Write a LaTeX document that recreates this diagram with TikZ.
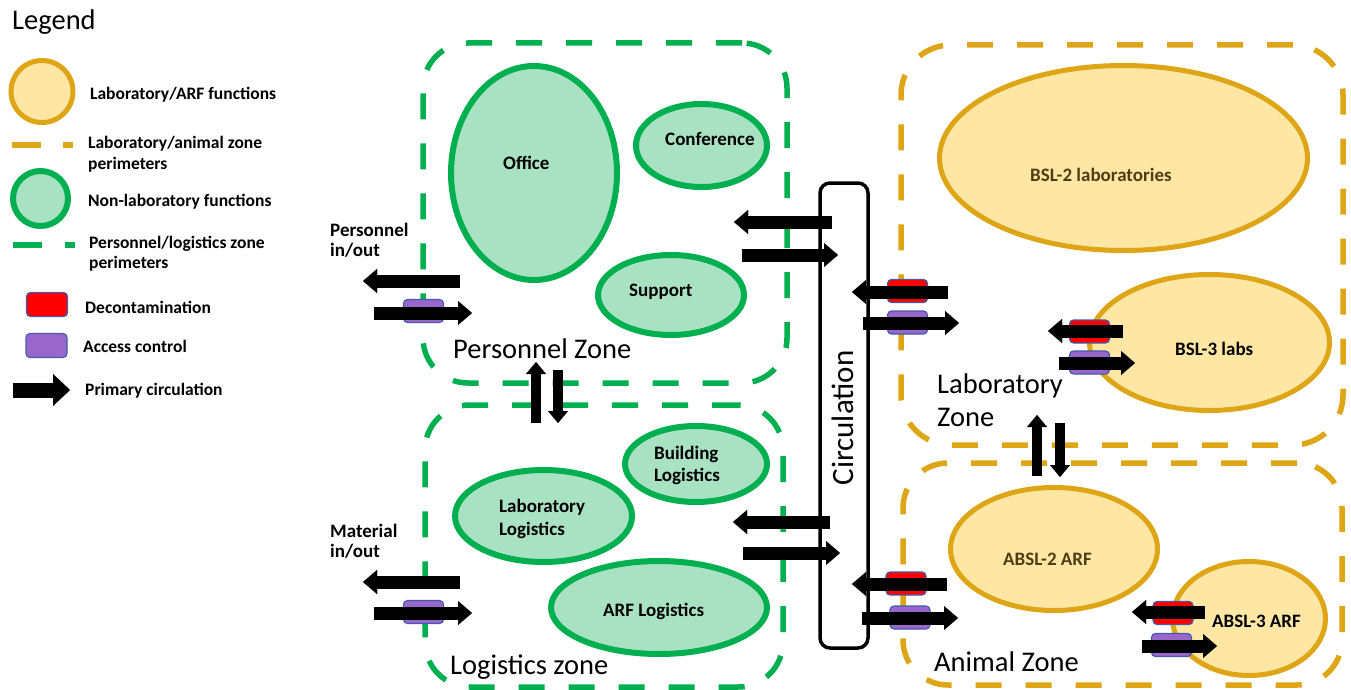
\documentclass[tikz,border=0pt]{standalone}
\usepackage{fontspec}
\setmainfont{Carlito}
\usetikzlibrary{shapes.geometric,arrows.meta}
\definecolor{zgreen}{RGB}{0,176,80}
\definecolor{lgreen}{RGB}{168,226,195}
\definecolor{zgold}{RGB}{222,166,22}
\definecolor{lgold}{RGB}{254,231,165}
\definecolor{dred}{RGB}{255,0,0}
\definecolor{purp}{RGB}{153,102,204}
\definecolor{bblue}{RGB}{70,90,170}
\definecolor{brownt}{RGB}{80,60,20}
\begin{document}
\begin{tikzpicture}[x=1pt,y=-1pt,
  zoneG/.style={draw=zgreen, line width=5.5pt, dash pattern=on 26pt off 24pt, rounded corners=45pt, rectangle, inner sep=0pt},
  zoneY/.style={draw=zgold, line width=5.5pt, dash pattern=on 26pt off 24pt, rounded corners=45pt, rectangle, inner sep=0pt},
  funcG/.style={ellipse, draw=zgreen, fill=lgreen, line width=6pt, inner sep=0pt},
  funcY/.style={ellipse, draw=zgold, fill=lgold, line width=5pt, inner sep=0pt},
  decon/.style={rectangle, rounded corners=4pt, fill=dred, draw=bblue, line width=1.2pt, minimum width=40pt, minimum height=23pt, inner sep=0pt},
  access/.style={decon, fill=purp},
  circbox/.style={rectangle, draw=black, line width=3.5pt, rounded corners=10pt, inner sep=0pt},
  bigarrow/.style={line width=13pt, -{Triangle[length=14pt,width=24pt,line width=0.01pt]}},
  vertarrow/.style={line width=10pt, -{Triangle[length=12pt,width=20pt,line width=0.01pt]}},
  legarrow/.style={line width=15pt, -{Triangle[length=17pt,width=32pt,line width=0.01pt]}},
  lbl/.style={font=\fontsize{19}{22}\selectfont\bfseries, inner sep=0pt, anchor=base west},
  leg/.style={font=\fontsize{17.5}{21}\selectfont\bfseries, inner sep=0pt, anchor=base west},
  big/.style={font=\fontsize{28.5}{33}\selectfont, inner sep=0pt, anchor=base west},
]
\useasboundingbox (0,0) rectangle (1351,690);

% ---------------- Legend ----------------
\node[big] (legT) at (12,29.5) {Legend};
\node[funcY, minimum width=62pt, minimum height=62pt] (legY) at (42,91.5) {};
\node[leg] (legYt) at (90,100) {Laboratory/ARF functions};
\coordinate (ldy1) at (12,145); \coordinate (ldy2) at (73,145);
\draw[draw=zgold, line width=6pt, dash pattern=on 29pt off 22pt] (ldy1) -- (ldy2);
\node[leg] (legYd1) at (88,148.5) {Laboratory/animal zone};
\node[leg] (legYd2) at (88,169) {perimeters};
\node[funcG, minimum width=55pt, minimum height=55pt] (legG) at (40.5,198.5) {};
\node[leg] (legGt) at (88,206.5) {Non-laboratory functions};
\coordinate (ldg1) at (13,245); \coordinate (ldg2) at (75,245);
\draw[draw=zgreen, line width=6pt, dash pattern=on 29pt off 23pt] (ldg1) -- (ldg2);
\node[leg] (legGd1) at (89,248) {Personnel/logistics zone};
\node[leg] (legGd2) at (89,268) {perimeters};
\node[decon, minimum width=41pt, minimum height=24pt] (legR) at (47,304.5) {};
\node[leg] (legRt) at (85,313) {Decontamination};
\node[access, minimum width=41pt, minimum height=24pt] (legP) at (46.5,345.5) {};
\node[leg] (legPt) at (83,352) {Access control};
\coordinate (lga1) at (13,390); \coordinate (lga2) at (70,390);
\draw[legarrow] (lga1) -- (lga2);
\node[leg] (legAt) at (85,395.5) {Primary circulation};

% ---------------- Zones ----------------
\node[zoneG, minimum width=364pt, minimum height=340pt] (pz) at (605,213) {};
\node[zoneG, minimum width=358pt, minimum height=282pt] (lz) at (604,546) {};
\node[zoneY, minimum width=442pt, minimum height=400pt, rounded corners=50pt] (labz) at (1122,245) {};
\node[zoneY, minimum width=439pt, minimum height=222pt] (az) at (1122.5,574) {};
\node[circbox, minimum width=48pt, minimum height=465pt] (circ) at (844,415.5) {};
\node[font=\fontsize{31}{36}\selectfont, rotate=90, inner sep=0pt] (circt) at (843,418) {Circulation};

% ---------------- Functions ----------------
\node[funcG, minimum width=166pt, minimum height=214pt] (office) at (534,173) {};
\node[funcG, minimum width=131pt, minimum height=83pt] (conf) at (701.5,145.5) {};
\node[funcG, minimum width=146pt, minimum height=80pt] (supp) at (671,295) {};
\node[funcG, minimum width=142pt, minimum height=76pt] (bldg) at (696,464) {};
\node[funcG, minimum width=177pt, minimum height=92pt] (lablog) at (543.5,516) {};
\node[funcG, minimum width=216pt, minimum height=93pt] (arflog) at (659,607.5) {};
\node[funcY, minimum width=368pt, minimum height=185pt] (bsl2) at (1123.5,158) {};
\node[funcY, minimum width=240pt, minimum height=136pt] (bsl3) at (1209.5,342.5) {};
\node[funcY, minimum width=207pt, minimum height=123pt] (absl2) at (1054,549) {};
\node[funcY, minimum width=153pt, minimum height=114pt] (absl3) at (1249,618.5) {};

% ---------------- Labels ----------------
\node[lbl] (officet) at (503,169.3) {Office};
\node[lbl] (conft) at (665,146) {Conference};
\node[lbl] (suppt) at (629,296.7) {Support};
\node[lbl] (pio1) at (330,236.7) {Personnel};
\node[lbl] (pio2) at (330,256.7) {in/out};
\node[lbl] (mio1) at (330,537.5) {Material};
\node[lbl] (mio2) at (330,557.5) {in/out};
\node[lbl] (bldgt1) at (654,459) {Building};
\node[lbl] (bldgt2) at (654,481) {Logistics};
\node[lbl] (lablogt1) at (499,512.7) {Laboratory};
\node[lbl] (lablogt2) at (499,535) {Logistics};
\node[lbl] (arflogt) at (603,616) {ARF Logistics};
\node[lbl, text=brownt] (bsl2t) at (1030,181.7) {BSL-2 laboratories};
\node[lbl] (bsl3t) at (1175,355) {BSL-3 labs};
\node[lbl, text=brownt] (absl2t) at (1003,565) {ABSL-2 ARF};
\node[lbl] (absl3t) at (1212,627.3) {ABSL-3 ARF};
\node[big] (pzt) at (453,358.3) {Personnel Zone};
\node[big] (lzt) at (450,674) {Logistics zone};
\node[big] (labzt1) at (937,393.3) {Laboratory};
\node[big] (labzt2) at (937,426.7) {Zone};
\node[big] (azt) at (934,671.7) {Animal Zone};

% ---------------- Decon / access boxes ----------------
\node[access] (pioA) at (423.5,311) {};
\node[access] (mioA) at (423.5,612) {};
\node[decon] (clR) at (907.5,291) {};
\node[access] (clA) at (907.5,322.5) {};
\node[decon] (caR) at (906,583.5) {};
\node[access] (caA) at (910,617.5) {};
\node[decon] (b3R) at (1089.5,331.5) {};
\node[access] (b3A) at (1089.5,362.5) {};
\node[decon] (a3R) at (1173,613) {};
\node[access] (a3A) at (1171.5,645) {};

% ---------------- Arrow end points ----------------
\coordinate (pioLs) at (460,281);  \coordinate (pioLe) at (363,281);
\coordinate (pioRs) at (374,313);  \coordinate (pioRe) at (472,313);
\coordinate (mioLs) at (460,582);  \coordinate (mioLe) at (363,582);
\coordinate (mioRs) at (374,613);  \coordinate (mioRe) at (472,613);
\coordinate (pcLs) at (832,222);   \coordinate (pcLe) at (734,222);
\coordinate (pcRs) at (742,255);   \coordinate (pcRe) at (838,255);
\coordinate (lcLs) at (830,522);   \coordinate (lcLe) at (733,522);
\coordinate (lcRs) at (743,553);   \coordinate (lcRe) at (840,553);
\coordinate (clLs) at (948,292);   \coordinate (clLe) at (852,292);
\coordinate (clRs) at (863,323);   \coordinate (clRe) at (959,323);
\coordinate (caLs) at (947,584);   \coordinate (caLe) at (852,584);
\coordinate (caRs) at (862,618);   \coordinate (caRe) at (958,618);
\coordinate (b3Ls) at (1123,331);  \coordinate (b3Le) at (1048,331);
\coordinate (b3Rs) at (1059,363);  \coordinate (b3Re) at (1135,363);
\coordinate (a3Ls) at (1205,612);  \coordinate (a3Le) at (1132,612);
\coordinate (a3Rs) at (1142,646);  \coordinate (a3Re) at (1217,646);
\coordinate (plUs) at (536,423);   \coordinate (plUe) at (536,362);
\coordinate (plDs) at (558,370);   \coordinate (plDe) at (558,423);
\coordinate (laUs) at (1037,476);  \coordinate (laUe) at (1037,415);
\coordinate (laDs) at (1060,423);  \coordinate (laDe) at (1060,477);

% ---------------- Arrows ----------------
\foreach \a in {pioL,pioR,mioL,mioR,pcL,pcR,lcL,lcR,clL,clR,caL,caR,b3L,b3R,a3L,a3R}
  \draw[bigarrow] (\a s) -- (\a e);
\foreach \a in {plU,plD,laU,laD}
  \draw[vertarrow] (\a s) -- (\a e);
\end{tikzpicture}
\end{document}
